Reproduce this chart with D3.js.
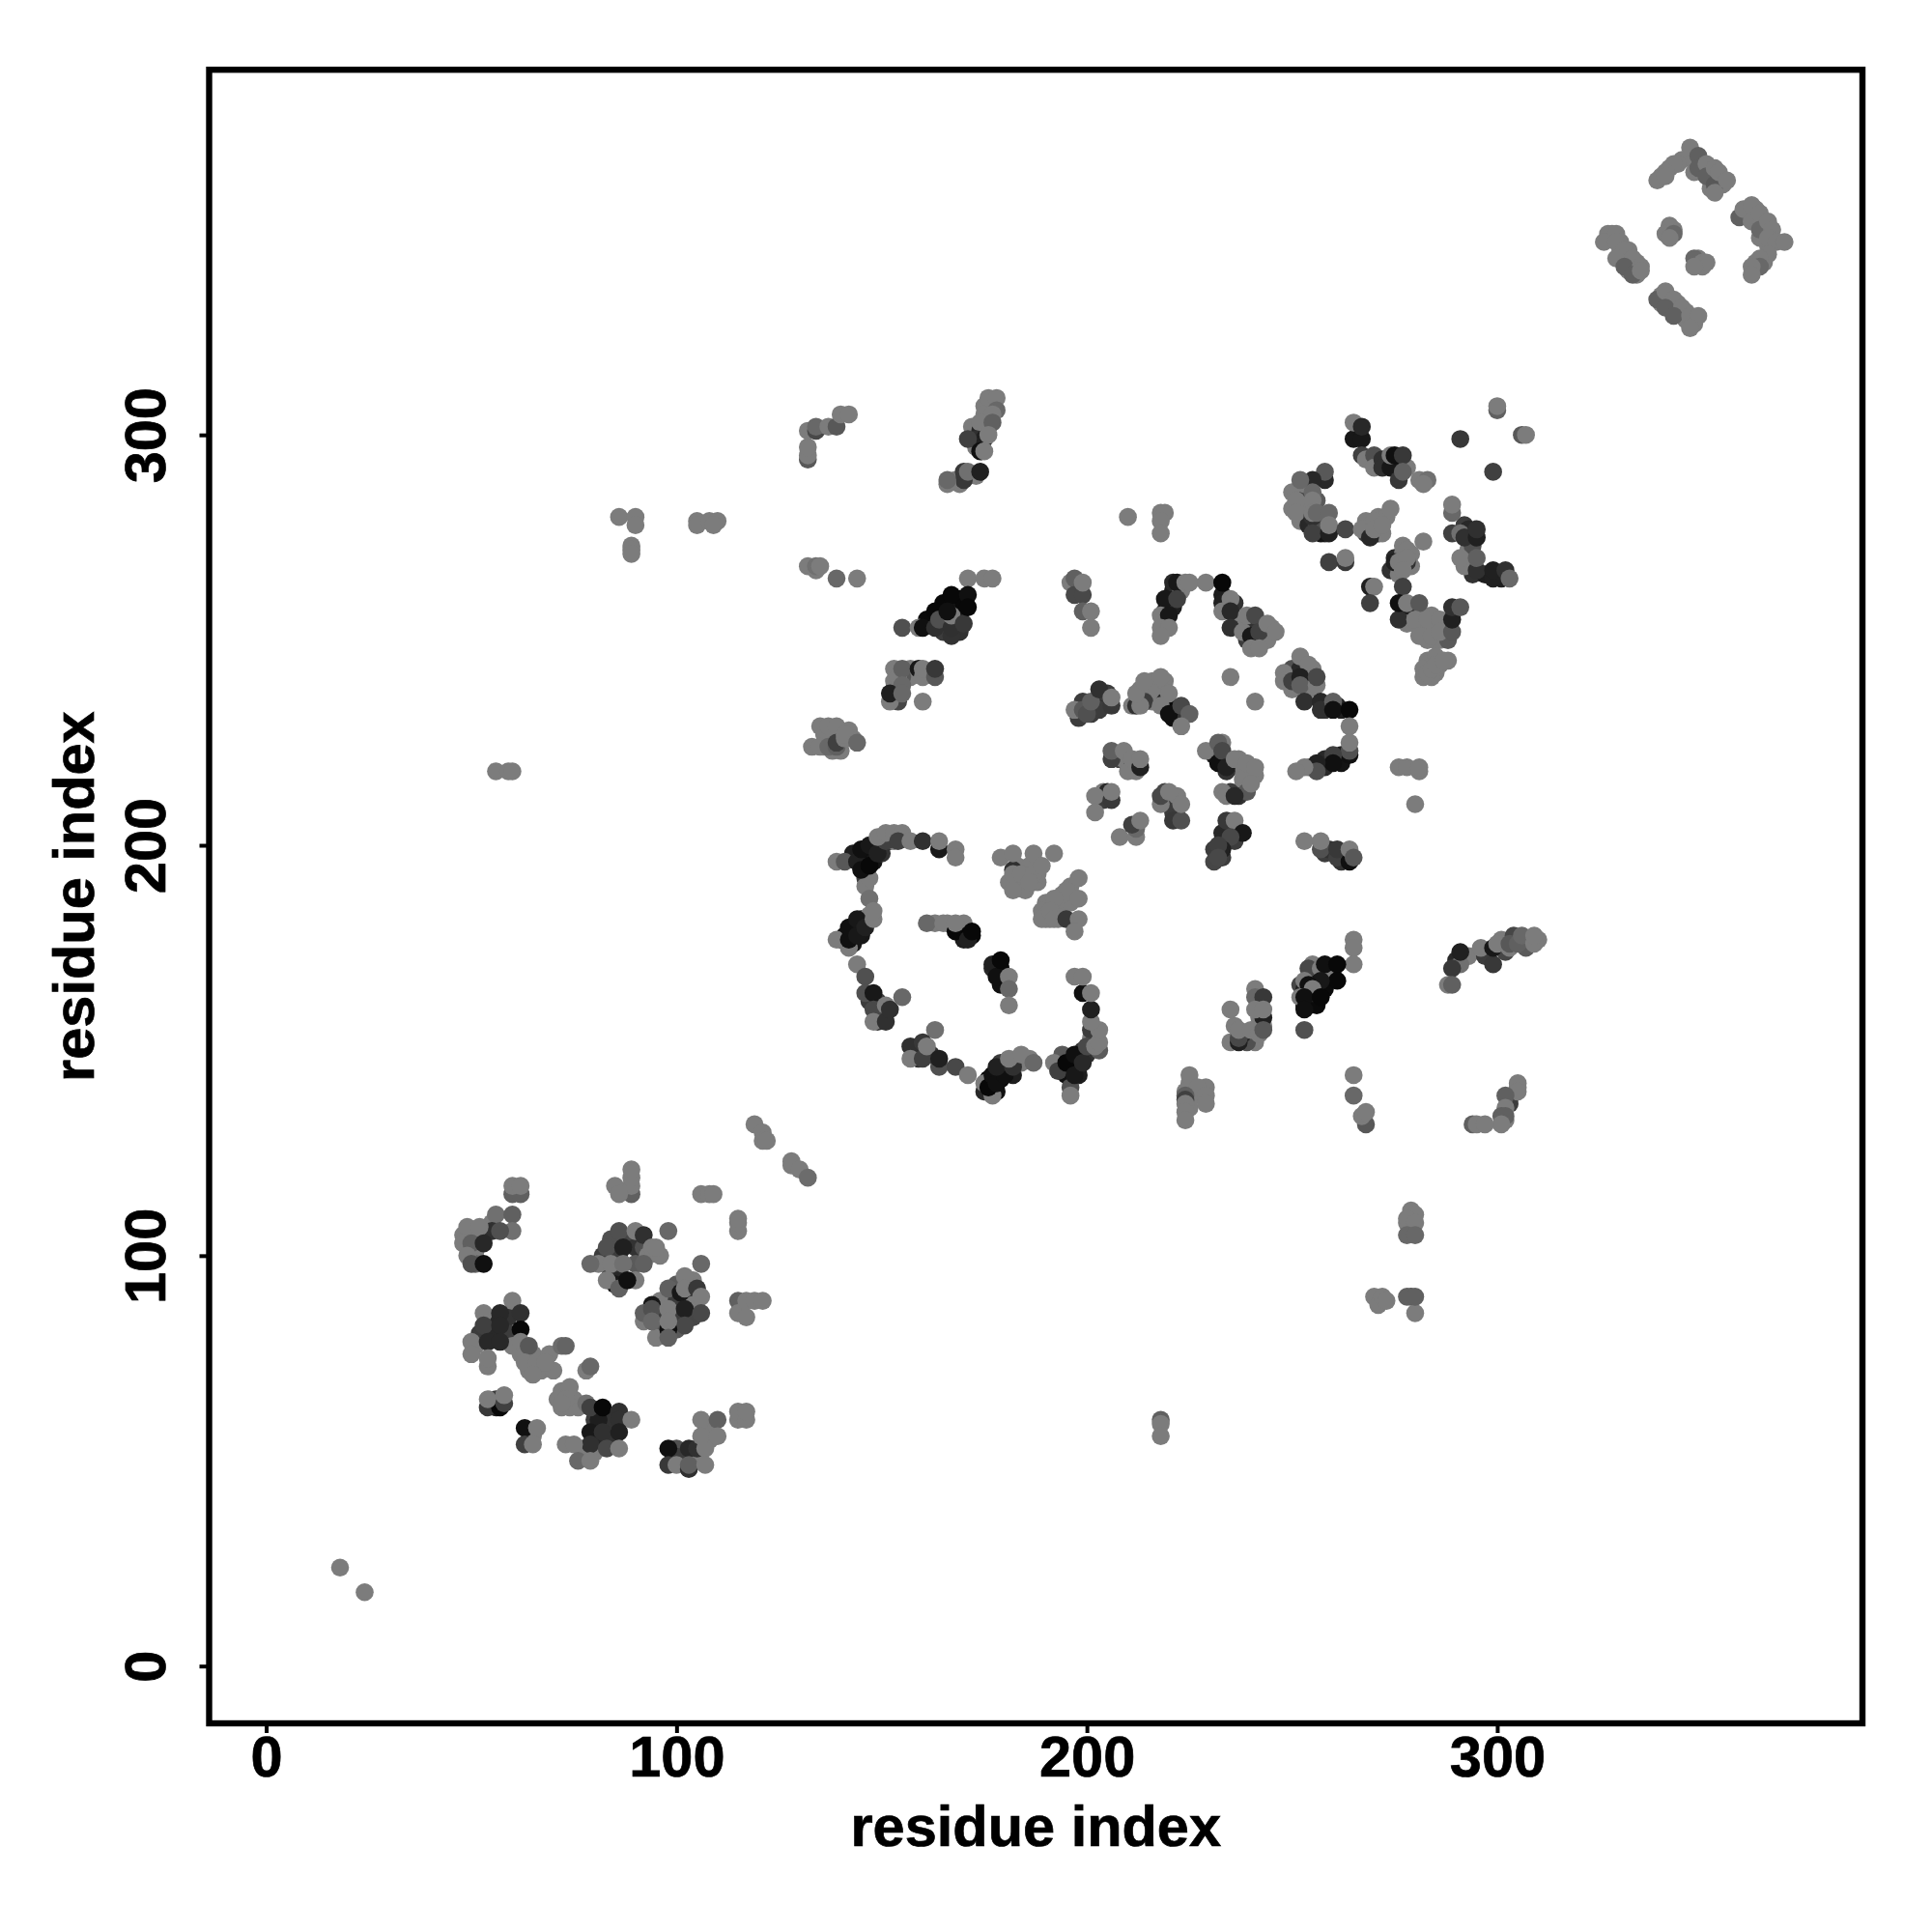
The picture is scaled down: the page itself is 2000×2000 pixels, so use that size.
<!DOCTYPE html>
<html><head><meta charset="utf-8">
<script src="https://cdnjs.cloudflare.com/ajax/libs/d3/7.8.5/d3.min.js"></script>
<style>html,body{margin:0;padding:0;background:#fff}svg{display:block}</style>
</head><body><div id="chart"></div>
<script>
// Each contact: [residue x, residue y, grey level] (grey omitted = lightest level)
const defaultGrey = 124;
const tickLabels = [0, 100, 200, 300];
const axisTitle = "residue index";
const underA = [[48,105],[50,105],[51,101],[51,98,100],[55,108],[82,100,60],[84,104,80],[86,100,60],[88,104,70],[90,102,50],[92,102,80],[90,98,90],[90,94],[84,96,60],[86,94,40],[81,98],[93,100],[96,100],
[96,85,60],[96,89],[100,89,60],[100,85,60],[100,93,90],[103,90,50],[104,88],[104,85,70],[96,82,90],[100,82,90],[104,94],[92,84],[95,80],
[55,84,40],[55,81,40],[52,81,60],[59,85,50],[59,81,60],[60,78],[62,76],[51,78],[65,76],[67,72],[69,76],[66,72],[64,72],[70,72],
[72,67],[73,66],[74,65],[75,65],[76,64],[72,63],[76,63],[80,60,60],[84,60,50],[81,55,40],[84,55,50],[77,53],[80,52],[81,60,30],
[56,65,60],[56,63,30],[65,57,40],[65,56],[100,53,80],[100,51,60],[105,50,70],[105,51],[101,50,60],[108,55],[108,58],[107,57]];
const underB = [[143,198,30],[146,197,20],[146,196,16],[148,196,20],[150,200,30],[150,198,50],[152,201,50],[153,201],[146,192,60],[146,190],[143,180,16],[145,182,30],[147,183],[140,177,40],[141,178,20],[143,176,24],[145,178,24],
[149,162,60],[150,159,50],[147,162,60],[149,157,50],[159,150,50],[162,149,50],[159,148,50],
[176,143,8],[178,140,16],[179,143,10],[180,146,20],[182,144,30],[183,147,60],[179,147,60],[175,140,40],[186,148],[184,147],
[194,145,20],[195,144,16],[196,146,8],[198,146,16],[198,149,24],[199,150,50],[200,149,48],[201,153],[202,154],[201,155,60],[203,150,90],[198,144,30],[193,147,40],[194,149,90],
[170,177,30],[170,179,10],[172,178,8],[170,181],[178,170,20],[179,170,8],[177,170,40],[179,166,16],[166,181],[163,181],
[181,191],[183,190],[184,191],[183,195],[185,194],[186,195],[188,191],[187,191],[188,193],[185,189],[190,186],[192,185],[193,184],[194,186],[196,186],[191,182],[193,182],[190,182],[194,188],[196,190],[189,184],[192,183]];
const underC = [[221,258,30],[219,257,40],[219,254],[221,262,30],[221,264,40],[223,262],[237,254],[240,254,50],[243,253,40],[243,250,60],[241,250,70],[245,253],[239,250,60],[244,250],[236,259,50],[234,258,30],[233,261,30],
[250,243,80],[252,243,40],[254,241,40],[250,238],[254,238],[255,243],[258,233,50],[261,234,40],[262,233,30],[262,222,30],[262,220,20],[258,221,40],[258,219,40],[254,219],
[199,235,60],[201,232,60],[203,235,50],[205,237,60],[203,233,60],[198,231,60],[213,238],[215,237],[216,240],[217,238],[216,235],[214,235,60],[219,235,40],[221,233,20],[221,231,16],[222,231,16],[219,240],[220,234,10],[224,232,50],
[207,222,70],[208,221,70],[209,221],[211,219],[212,218],[212,220,40],[211,219,30],[204,213],[205,213,40],[204,211,60],[219,213,70],[220,211,70],[221,209,60],[222,207,50],[222,212],[221,208,60],
[231,222,30],[233,221,16],[235,219,30],[237,219],[237,221],[239,217],[241,217],[238,214],[237,212,50],[235,213,60],[233,213],[238,216],[232,222,30],[234,218,50],[233,225],
[233,203,40],[234,201,50],[236,201,60],[233,201,40],[231,199,60],[233,197,60],[231,196,70],[256,219,40],[258,198,60],[259,199,50],[262,198,60],[263,197,16],[262,196,50]];
const underD = [[250,286],[252,285],[253,283],[253,280],[251,286],[252,282],[250,282],[252,279],[254,278,40],[254,286,70],[256,278,70],[258,276,50],[257,276,20],[256,284,90],[257,279,80],[253,288],
[268,276,60],[269,277],[271,276,40],[271,280],[273,280],[272,276],[268,279],[274,267,50],[275,270,40],[277,271],[277,273],[279,271],[279,268],[276,266],[278,269,50],
[278,257,30],[279,258,30],[278,254],[282,256],[284,253],[282,253],[285,250],[283,250],[286,250],[287,254,40],[288,252],[281,253],[284,256],[288,250,90],
[282,241],[283,245],[284,245],[285,242],[286,244],[284,241],[285,246],[288,245],[282,243],
[292,278,60],[293,277,40],[293,272],[293,275,20],[294,273,80],[293,268],[294,266,50],[292,268],[300,266,20],[297,266,30],[301,265,30],[269,294],[271,294,50],[273,293,40],[275,293,20],[276,293,16],[278,292]];
const underE = [[172,302],[174,301,40],[173,297],[174,298,20],[176,302],[175,307],[177,307],[168,289],[169,288],[173,290],[162,254,20],[165,254,30],[165,259,8],[168,259,8],[169,260,10],[168,257,20],[169,256,30],[170,259,8],[161,255,10],[165,252,60],[169,252,50],[167,251,50],
[153,238,40],[154,235,70],[153,240],[153,243],[157,243],[157,241],[161,242,30],[135,229],[138,227],[140,225],[142,228],[143,226],[136,224],[138,223],[140,223],[137,226],[136,227]];
const underF = [[255,171],[256,168,20],[255,167,8],[256,165,30],[258,165,10],[259,169,40],[260,169],[255,162,10],[252,166,70],[253,165,30],[253,161,20],[256,161,10],[255,164,50],
[290,172,40],[293,173],[297,173,60],[301,177],[302,174,70],[304,178,70],[307,177,80],[307,175,90],[310,177],
[239,154],[240,153],[241,152],[243,156],[239,152,80],[236,156],[238,154,40],[241,165],[242,158],[242,161,60],[224,140],[225,136],[226,139],[225,142],[228,140],[229,141],[305,141],[303,138],[303,137,60],[302,133],[279,106],[278,108],[279,107],[279,90,80]];
const underG = [[345,367],[344,366],[342,365],[340,363],[348,367],[350,366],[352,364],[354,362],[355,361],[350,364],[352,362],[348,364],[352,360],
[361,354],[363,352],[363,355],[365,352],[365,350],[366,350],[367,348],[362,353],[364,348],[366,346],[365,342],[363,342],
[330,347],[331,343],[332,345],[330,345],[328,349],[332,342],[334,342],[332,340],[334,339],[327,349],
[340,334],[342,333],[344,332],[342,331],[344,330],[340,332],[346,330],[346,328],[348,327],[345,329],[343,350],[350,341],[349,343],[342,350]];
const isolated = [[18,24],[24,18],[56,218],[59,218],[60,218],[86,280],[90,280],[90,278],[89,273],[89,272],[89,271],[105,279],[105,278],[108,279],[110,279],[109,278],[210,280],[218,281],[219,281],[218,279],[218,276],[218,60,96],[218,59],[218,56]];
const domainA = [[60,115,96],[62,115,96],[60,117],[62,117],[56,110,112],[60,110,96],[49,107],[55,106,48],[52,107],[60,106,112],[57,106,80],[48,103],[50,103,96],[53,103,40],[49,100],[50,98,80],[53,98,16],
[89,115,96],[89,117],[89,119],[89,121],[85,117],[86,115],[86,106,80],[90,106],[92,105,48],[98,106,104],[83,102,80],[87,102,32],[92,98,96],[94,102],[95,102],[79,98,104],[85,93,24],[84,98],[87,98,112],[83,94],[86,92,96],[88,94,16],
[106,98,104],[98,92,96],[101,91,24],[102,95],[102,92],[105,92,56],[106,90],[94,88,24],[92,86,96],[94,87,80],[98,87],[102,87,32],[106,86,72],[94,84,104],[102,83,72],[98,82,16],[98,84],[98,80,96],
[115,89,96],[115,86],[117,85],[117,89],[119,89],[121,89],[115,106],[115,108],[115,109],[106,115],[108,115],[109,115],[119,132],[121,130],[121,128],[122,128],[128,122],[128,123],[130,121],[132,119,108],
[53,86],[60,89],[57,86,40],[62,86,48],[53,83,64],[57,83,40],[62,82,8],[50,79],[54,79,40],[57,79,40],[50,76],[62,79],[64,78,88],[54,73],[54,75],[63,74],[66,74],[68,74],[65,71],[72,78,108],[73,78,100],[78,72],[79,73,104],
[74,68],[71,65],[74,63],[73,65],[72,64],[78,64,112],[79,63,64],[82,63,8],[86,62,48],[86,60,48],[89,60],[79,57,24],[82,57,48],[86,57,32],[79,54,48],[83,53,72],[86,53],[73,54],[75,54],[76,50,104],[79,50],
[54,63,56],[57,63,8],[54,65],[58,64,64],[58,66],[63,58,16],[66,58],[63,54,64],[65,54],
[98,53,16],[98,49,56],[100,49],[103,53,40],[105,53,48],[103,48,48],[103,49,96],[107,53],[107,49],[106,60],[110,60,96],[106,56],[110,56],[115,60],[115,62],[117,60],[117,62]];
const domainB = [[139,196],[141,196,88],[147,192],[144,196,32],[145,194,16],[147,195,8],[145,199,16],[147,200,24],[149,198,32],[151,201,64],[149,202],[151,203],[153,203],[155,203],[154,201,64],[157,201],[160,201,48],[164,199,24],[164,201],[168,199],[168,197],
[147,187,112],[142,175],[139,177],[142,177,16],[142,180,16],[144,178,24],[144,182,24],[146,180,32],[148,182],[148,184],
[144,171],[146,168,80],[146,164,80],[148,164,24],[148,160,72],[148,157],[151,157,48],[151,161],[152,160,48],[155,163,104],
[163,155,112],[157,151,48],[157,148],[160,148,64],[160,152,56],[161,151],[164,146,80],[164,148,32],[168,146,72],[171,144],
[175,142],[177,139],[176,141,8],[177,144,16],[178,142,16],[180,144,16],[178,146,32],[182,146,48],[181,148],[184,149],[187,147,104],
[192,147],[193,145,64],[195,147,8],[196,141,80],[196,139],[197,144,24],[197,149,16],[199,147,40],[200,151,72],[202,151],[203,152],[203,155],[201,157],[201,160,32],[199,164,16],[201,164],[197,168],[199,168],
[161,181,104],[165,181],[168,179,8],[168,181],[171,177,32],[172,179,8],[177,171,32],[178,168,16],[179,172,8],[181,168],[181,165,104],[181,161],
[182,194,48],[179,197],[182,198],[187,198],[192,198],[182,189],[182,193],[184,193],[187,193],[189,195],[186,191],[198,192],[195,189],[198,187],[192,187],[189,182],[191,184],[192,182],[195,182,56],[198,182],[197,179]];
const domainC = [[196,264],[197,265,96],[197,261,72],[199,261,72],[199,264],[199,257,96],[201,257],[201,253],
[222,264,24],[224,264],[225,264],[229,264],[233,264,8],[219,260,24],[222,260,64],[218,256],[220,256,24],[218,253],[220,253],[218,251],[233,259,32],[235,260],[233,257],[235,257,40],[235,253,48],
[238,252],[239,256],[241,256,72],[240,251,24],[242,252,64],[244,254],[246,252],[240,248],[242,248],
[252,246],[254,244],[248,242],[248,240],[250,240,64],[252,241,32],[252,239,96],[256,239],[256,241,72],
[253,235,48],[257,235,40],[257,233,48],[260,235,96],[260,233,16],[264,233,8],[264,229],[264,222,16],[264,223,80],[264,225],[260,222,64],[260,220,16],[256,220,32],[256,218,80],[253,219],[251,218],
[276,219],[278,219],[281,218],[281,219],[280,210],[235,241],[241,235],
[197,233],[199,233,88],[200,232,80],[201,235,96],[203,238,48],[206,234,56],[206,236],
[211,234],[212,234,48],[213,234],[212,237],[214,240],[218,241],[220,237],[218,234],[220,232,16],[223,234,72],[225,232,96],[223,229],
[206,221,64],[206,223,96],[209,223],[210,218],[211,221],[213,219,32],[213,221],[202,212],[202,208],[206,211,56],[206,213],
[218,210],[218,212,72],[220,213],[221,206,56],[223,206,80],[223,210],
[229,223],[232,220,16],[232,225,96],[233,223,72],[234,219,32],[236,221],[239,220],[241,219],[234,212],[239,213,88],[240,215],[236,212,40],
[234,206,56],[236,206],[238,203,24],[235,202,72],[233,199,32],[232,200,64],[232,197,72],
[253,201],[257,199,80],[257,201],[261,197,64],[261,199,56],[264,196,16],[264,199],[265,197,88],
[208,202],[212,202],[212,204,104],[211,205,64],[213,206]];
const domainD = [[300,306,96],[300,307],[306,300,88],[307,300],[291,299,56],[299,291,64],
[265,299,24],[267,299,24],[265,303],[267,302,40],[267,295,64],[268,294],[270,295,80],[270,292],[272,294,48],[272,292,48],[274,292,24],[276,289,56],[274,295],[275,295,16],[277,295,56],[277,291,96],[281,289],[283,289,112],[282,288],
[258,289,40],[258,291,88],[255,289,40],[252,289,104],[255,286,104],[251,284],[255,284],[251,281],[255,280,48],[255,281],[256,281,104],[259,281,104],[255,276,64],[259,276,32],[259,278],[263,277,72],
[267,277],[269,275,40],[270,279],[270,277],[272,278],[274,282],[259,269,64],[263,269,56],[263,270],[269,263,32],[270,263],[269,259,64],
[275,269,32],[276,269],[278,272],[278,270],[277,267],[282,274],[277,263,64],[276,255,48],[276,259,16],[278,259],[281,259,88],[280,255],[283,255],[286,255],[281,251],[284,251],[286,252],[289,252,88],[289,255,32],[289,258,48],[291,258,88],
[283,242],[284,243],[285,244],[287,245],
[289,281,104],[289,283],[289,276,64],[291,276,112],[292,275,48],[295,275,32],[295,277,48],[291,270],[295,267,48],[295,270,96],[299,265,32],[299,267,32],[302,267,48],[303,265,104]];
const domainE = [[132,294,88],[132,295],[132,297],[132,301],[134,301,72],[134,302,104],[137,302],[139,302,88],[140,305],[142,305],
[176,309],[178,309],[178,306,104],[175,305],[177,305],[174,303],[177,303,96],[173,299,48],[175,299,32],[171,299,64],[176,300],[174,296,16],[175,296],[170,289,56],[170,291,56],[171,291,112],[174,291,32],[166,288],[166,289,104],
[132,268],[134,267],[134,268,112],[135,268],[139,265,104],[144,265],[171,265],[175,265],[177,265],
[155,253,80],[159,253],[160,253,16],[163,253,48],[163,257,8],[164,255,80],[167,253,48],[167,256],[170,254,56],[167,261,8],[171,261,16],[166,257,16],[171,258,8],
[155,241,88],[154,241],[155,243,96],[155,239,104],[152,235],[152,237,32],[155,237,104],[159,243,24],[160,241],[160,243],[163,241,88],[163,243,56],[160,235],
[137,229],[139,229],[133,224],[135,224],[137,224,104],[139,224,96],[139,225,64],[141,226],[141,227],[144,225,104]];
const domainF = [[265,177],[265,175],[265,171],[254,170,72],[257,170],[258,171,16],[261,171,8],[261,167,8],[257,167,24],[253,167],[254,166,16],[255,165],[252,163],[253,163,16],[257,163,8],[253,160,16],[253,155,80],
[291,171,112],[291,174,32],[289,170,56],[288,166],[289,166,96],[296,175],[299,171,56],[299,175,24],[300,176],[303,175],[303,176,88],[305,176,96],[306,178,104],[309,176],[309,178],
[235,160],[241,163,104],[243,163,56],[243,158,32],[241,160],[243,160],[235,152],[237,152,32],[237,153,72],[237,155],[240,155],[242,154],[243,155,88],
[225,144],[227,141],[224,139,96],[224,138,64],[229,139],[229,137],[224,137],[224,135],[224,133],
[265,144],[265,139,104],[268,132,88],[267,134],[268,135],
[305,142],[305,140],[302,139,96],[302,136],[301,134,96],[302,134,96],[301,132],[294,132,96],[295,132],[297,132],
[279,111],[280,110],[278,109],[280,108],[278,105,104],[280,105,104],[270,90],[271,88],[272,90],[273,89],[278,90,96],[280,86],[280,90,96]];
const domainG = [[347,370],[343,366],[341,364],[339,362],[341,363],[349,368,96],[349,365,96],[351,366],[351,363,96],[353,361,88],[353,359],[353,365],[354,364],[356,362],
[359,353,96],[360,355],[362,356],[362,352],[364,354],[364,350,104],[366,352],[367,350],[366,348],[368,347],[370,347],[366,344],[364,343],[364,341,104],[362,341],[362,339],
[342,351],[341,349],[343,349,104],[342,348],[348,343,104],[350,342],[351,342],[348,341],
[329,349],[326,347],[329,347],[331,345],[329,343],[333,343],[331,341,96],[335,341],[333,339,96],[335,340],
[339,333,96],[341,335],[343,333],[341,331,96],[345,331],[343,329,96],[347,329],[349,329],[347,326]];

const contacts = [...underA, ...underB, ...underC, ...underD, ...underE, ...underF, ...underG,
  ...isolated, ...domainA, ...domainB, ...domainC, ...domainD, ...domainE, ...domainF, ...domainG];

const size = 2000;
const frame = {left: 216.5, right: 1928, top: 72.2, bottom: 1784};
const x = d3.scaleLinear().domain([-13.9, 389.0]).range([frame.left, frame.right]);
const y = d3.scaleLinear().domain([-13.96, 388.97]).range([frame.bottom, frame.top]);

const svg = d3.select("#chart").append("svg").attr("width", size).attr("height", size);
svg.append("rect").attr("width", size).attr("height", size).attr("fill", "#fff");

svg.append("g").selectAll("circle").data(contacts).join("circle")
  .attr("cx", d => x(d[0])).attr("cy", d => y(d[1])).attr("r", 9.3)
  .attr("fill", d => { const g = d[2] === undefined ? defaultGrey : d[2]; return d3.rgb(g, g, g); });

const font = "'Liberation Sans', Arial, Helvetica, sans-serif";
const heavy = s => s.attr("fill", "#000").attr("stroke", "#000").attr("stroke-width", 0.7)
  .attr("font-family", font).attr("font-weight", 700).attr("font-size", 59.5);
const xAxis = svg.append("g").attr("transform", `translate(0,${frame.bottom})`)
  .call(d3.axisBottom(x).tickValues(tickLabels).tickSize(10).tickFormat(d3.format("d")));
const yAxis = svg.append("g").attr("transform", `translate(${frame.left},0)`)
  .call(d3.axisLeft(y).tickValues(tickLabels).tickSize(10).tickFormat(d3.format("d")));
[xAxis, yAxis].forEach(a => {
  a.select(".domain").remove();
  a.selectAll("line").attr("stroke", "#000").attr("stroke-width", 4);
  a.selectAll("text").call(heavy);
});
xAxis.selectAll("text").attr("y", 55).attr("dy", null);
yAxis.selectAll("text").attr("x", null).attr("dy", null).attr("text-anchor", "middle")
  .attr("transform", "translate(-46,0) rotate(-90)");

svg.append("rect").attr("x", frame.left).attr("y", frame.top)
  .attr("width", frame.right - frame.left).attr("height", frame.bottom - frame.top)
  .attr("fill", "none").attr("stroke", "#000").attr("stroke-width", 6.4);

svg.append("text").attr("x", (frame.left + frame.right) / 2).attr("y", 1911)
  .attr("text-anchor", "middle").call(heavy).text(axisTitle);
svg.append("text").attr("transform", `translate(97,${(frame.top + frame.bottom) / 2}) rotate(-90)`)
  .attr("text-anchor", "middle").call(heavy).text(axisTitle);
</script></body></html>
